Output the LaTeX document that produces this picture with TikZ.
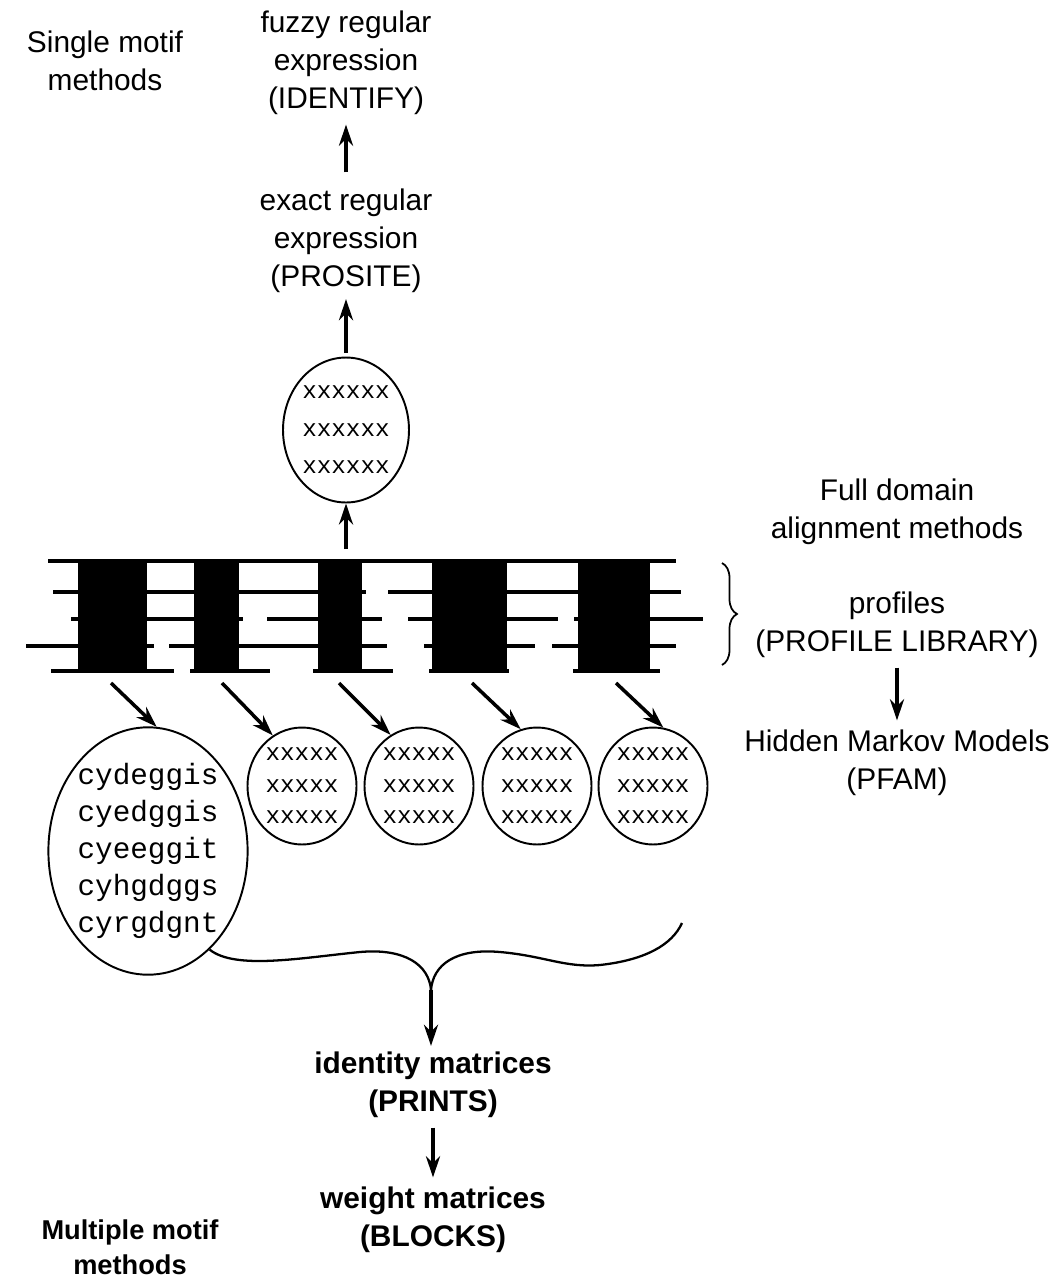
\documentclass[tikz,border=0pt]{standalone}
\usepackage{fontspec}
\setmainfont{Liberation Sans}
\setmonofont{Liberation Mono}
\usetikzlibrary{arrows.meta,shapes.geometric,decorations.pathreplacing}

\tikzset{
	lbl/.style={align=center, font=\fontsize{17}{21.6}\selectfont},
	blbl/.style={align=center, font=\fontsize{17}{21.6}\selectfont\bfseries},
	arr/.style={line width=2pt, -{Stealth[length=12pt,width=8pt]}},
	seq/.style={line width=2pt},
	motif/.style={ellipse, draw, line width=1.1pt, inner sep=0pt, align=center, font=\ttfamily\fontsize{13.8}{17.9}\selectfont}
}

\begin{document}
\begin{tikzpicture}[x=0.02cm, y=-0.02cm]
	\useasboundingbox (0,0) rectangle (1064,1282);

	\node [lbl] (single) at (105,61) {Single motif\\methods};
	\node [lbl] (fuzzy) at (346,63) {fuzzy regular\\expression\\(IDENTIFY)};
	\node [lbl] (exact) at (346,241) {exact regular\\expression\\(PROSITE)};
	\node [motif, minimum width=2.52cm, minimum height=2.9cm, font=\ttfamily\fontsize{13.8}{21.3}\selectfont] (top) at (346,430) {xxxxxx\\xxxxxx\\xxxxxx};
	\draw [arr, shorten <=6pt, shorten >=2pt] (exact) -- (fuzzy);
	\draw [arr, shorten <=2pt] (top) -- (exact);

	% alignment
	\foreach \a/\b/\y in {48/676/561, 53/366/592, 388/681/592,
		71/243/619, 267/382/619, 408/558/619, 574/703/619,
		26/154/646, 169/387/646, 424/535/646, 552/676/646,
		51/174/671, 190/270/671, 313/393/671, 429/509/671, 573/660/671}
		\draw [seq] (\a,\y) -- (\b,\y);
	\foreach \a/\b in {78/147, 194/239, 318/362, 432/507, 578/650}
		\fill (\a,561) rectangle (\b,671);
	\coordinate (aln) at (346,549);
	\draw [arr] (aln) -- (top.south);

	\coordinate (btop) at (722,563);
	\coordinate (bbot) at (722,665);
	\draw [line width=1pt, decorate, decoration={brace, amplitude=0.3cm}] (btop) -- (bbot);
	\node [lbl] (full) at (897,512) {Full domain\\alignment methods};
	\node [lbl] (prof) at (897,625) {profiles\\(PROFILE LIBRARY)};
	\node [lbl] (hmm) at (897,763) {Hidden Markov Models\\(PFAM)};
	\draw [arr, shorten <=2pt, shorten >=2pt] (prof) -- (hmm);

	% motifs
	\node [motif, minimum width=3.98cm, minimum height=4.94cm, font=\ttfamily\fontsize{16.7}{21}\selectfont] (big) at (148,851) {cydeggis\\cyedggis\\cyeeggit\\cyhgdggs\\cyrgdgnt};
	\foreach \n/\x in {1/302, 2/419, 3/537, 4/653}
		\node [motif, minimum width=2.18cm, minimum height=2.34cm] (e\n) at (\x,786) {xxxxx\\xxxxx\\xxxxx};
	\foreach \n/\x in {0/111, 1/222, 2/339, 3/472, 4/616}
		\coordinate (t\n) at (\x,683);
	\draw [arr] (t0) -- (big.86);
	\draw [arr] (t1) -- (e1.120);
	\draw [arr] (t2) -- (e2.119);
	\draw [arr] (t3) -- (e3.106);
	\draw [arr] (t4) -- (e4.80);

	\coordinate (tip) at (431,990);
	\coordinate (bend) at (682,923);
	\draw [line width=1.3pt] (big.-58) .. controls (235,970) and (300,958) .. (360,952) .. controls (405,948) and (429,965) .. (tip);
	\draw [line width=1.3pt] (tip) .. controls (433,965) and (455,948) .. (500,952) .. controls (545,956) and (565,968) .. (600,965) .. controls (645,960) and (672,945) .. (bend);

	\node [blbl] (ident) at (433,1085) {identity matrices\\(PRINTS)};
	\node [blbl] (weight) at (433,1220) {weight matrices\\(BLOCKS)};
	\node [blbl, font=\fontsize{15.5}{20}\selectfont\bfseries] (multi) at (130,1247) {Multiple motif\\methods};
	\draw [arr] (tip) -- (tip |- ident.north);
	\draw [arr, shorten <=2pt, shorten >=2pt] (ident) -- (weight);
\end{tikzpicture}
\end{document}
